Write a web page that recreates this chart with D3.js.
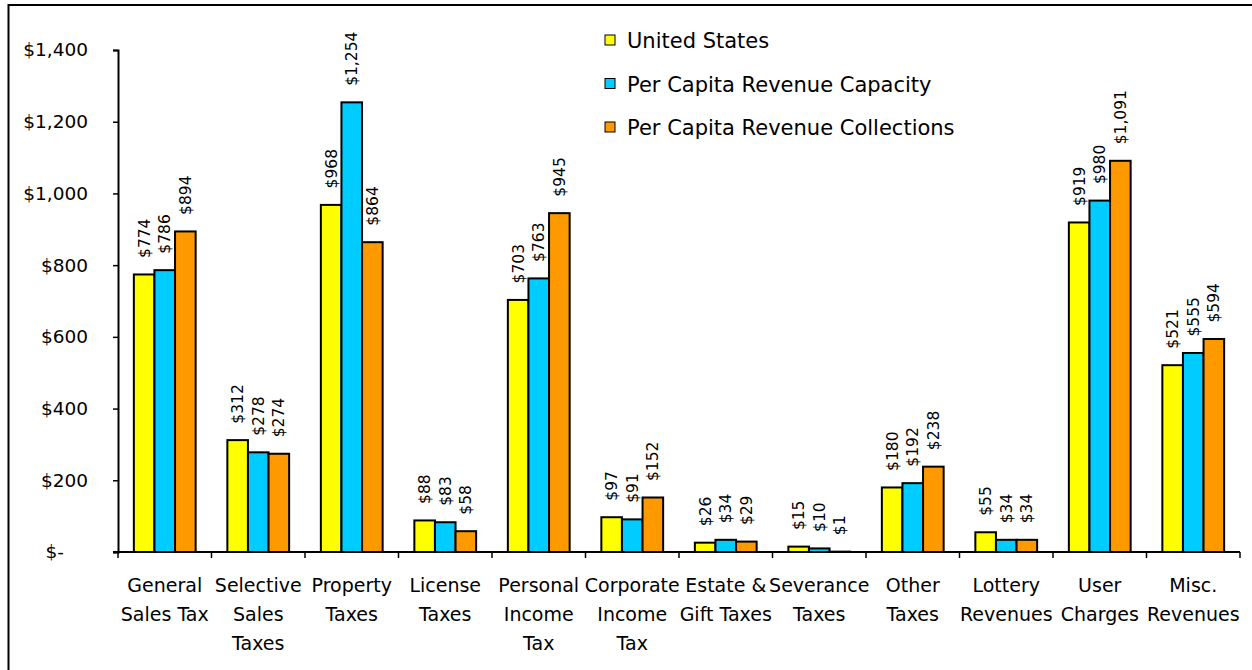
<!DOCTYPE html>
<html lang="en">

<head>
    <meta charset="UTF-8">
    <title>Per Capita Revenue</title>
    <script src="https://cdn.jsdelivr.net/npm/d3@7"></script>
    <style>
        body { margin: 0; background: #fff; }
        text { font-family: "DejaVu Sans", sans-serif; fill: #000; }
    </style>
</head>

<body>
    <svg></svg>
</body>
<script>
    // chart data
    const categories = ['General Sales Tax', 'Selective Sales Taxes', 'Property Taxes', 'License Taxes',
        'Personal Income Tax', 'Corporate Income Tax', 'Estate & Gift Taxes', 'Severance Taxes',
        'Other Taxes', 'Lottery Revenues', 'User Charges', 'Misc. Revenues'];
    // how each category label wraps
    const categoryLines = [['General', 'Sales Tax'], ['Selective', 'Sales', 'Taxes'], ['Property', 'Taxes'],
        ['License', 'Taxes'], ['Personal', 'Income', 'Tax'], ['Corporate', 'Income', 'Tax'],
        ['Estate &', 'Gift Taxes'], ['Severance', 'Taxes'], ['Other', 'Taxes'], ['Lottery', 'Revenues'],
        ['User', 'Charges'], ['Misc.', 'Revenues']];
    const seriesNames = ['United States', 'Per Capita Revenue Capacity', 'Per Capita Revenue Collections'];
    const unitedStates = [774, 312, 968, 88, 703, 97, 26, 15, 180, 55, 919, 521];
    const revenueCapacity = [786, 278, 1254, 83, 763, 91, 34, 10, 192, 34, 980, 555];
    const revenueCollections = [894, 274, 864, 58, 945, 152, 29, 1, 238, 34, 1091, 594];
    const yTicks = [0, 200, 400, 600, 800, 1000, 1200, 1400];

    const seriesValues = [unitedStates, revenueCapacity, revenueCollections];
    const colors = ['#ffff00', '#00ccff', '#ff9900'];

    const width = 1252, height = 670;
    const svg = d3.select('svg').attr('width', width).attr('height', height);

    // outer frame (right/bottom edges fall outside the picture)
    svg.append('rect')
        .attr('x', 8.5).attr('y', 5)
        .attr('width', width + 20).attr('height', height + 20)
        .attr('fill', 'none').attr('stroke', '#000').attr('stroke-width', 2);

    const x0 = d3.scaleBand().domain(categories).range([118, 1240]);
    const x1 = d3.scaleBand().domain(seriesNames).range([0, x0.bandwidth()]).paddingOuter(0.77);
    const y = d3.scaleLinear().domain([0, 1400]).range([552, 50]);

    // y axis
    const yAxis = svg.append('g')
        .attr('transform', 'translate(118,0)')
        .call(d3.axisLeft(y).tickValues(yTicks).tickSize(5).tickPadding(25)
            .tickFormat(d => d === 0 ? '$-' : '$' + d3.format(',')(d)));
    yAxis.select('.domain').attr('stroke', '#000').attr('stroke-width', 2);
    yAxis.selectAll('.tick line').attr('stroke', '#000').attr('stroke-width', 1.5);
    yAxis.selectAll('.tick text')
        .attr('font-size', 18.5)
        .attr('font-family', '"DejaVu Sans", sans-serif')
        .attr('fill', '#000')
        .attr('dx', d => d === 0 ? -24 : 0);

    // x axis: base line plus ticks on band boundaries
    svg.append('line')
        .attr('x1', 113).attr('x2', x0.range()[1])
        .attr('y1', y(0)).attr('y2', y(0))
        .attr('stroke', '#000').attr('stroke-width', 2);
    svg.append('g').selectAll('line')
        .data(categories.concat(['__end']))
        .join('line')
        .attr('x1', (d, i) => x0.range()[0] + i * x0.step())
        .attr('x2', (d, i) => x0.range()[0] + i * x0.step())
        .attr('y1', y(0)).attr('y2', y(0) + 6)
        .attr('stroke', '#000').attr('stroke-width', 1.5);

    // category labels
    svg.append('g').selectAll('text')
        .data(categories)
        .join('text')
        .attr('x', d => x0(d) + x0.bandwidth() / 2)
        .attr('y', 592)
        .attr('text-anchor', 'middle')
        .attr('font-size', 19)
        .selectAll('tspan')
        .data((d, i) => categoryLines[i])
        .join('tspan')
        .attr('x', function () { return this.parentNode.getAttribute('x'); })
        .attr('dy', (d, i) => i === 0 ? 0 : 29)
        .text(d => d);

    // bars
    const groups = svg.append('g').selectAll('g')
        .data(categories)
        .join('g')
        .attr('transform', d => `translate(${x0(d)},0)`);

    const cells = groups.selectAll('g')
        .data((d, i) => seriesNames.map((s, k) => ({ series: s, k: k, value: seriesValues[k][i] })))
        .join('g');

    cells.append('rect')
        .attr('x', d => x1(d.series))
        .attr('width', x1.bandwidth())
        .attr('y', d => y(d.value))
        .attr('height', d => y(0) - y(d.value))
        .attr('fill', d => colors[d.k])
        .attr('stroke', '#000')
        .attr('stroke-width', 2);

    // rotated value labels
    cells.append('text')
        .attr('transform', d => `translate(${x1(d.series) + x1.bandwidth() / 2},${y(d.value) - 16.5}) rotate(-90)`)
        .attr('dy', '0.35em')
        .attr('font-size', 15.5)
        .text(d => '$' + d3.format(',')(d.value));

    // legend
    const legend = svg.append('g').selectAll('g')
        .data(seriesNames)
        .join('g')
        .attr('transform', (d, i) => `translate(605,${48 + i * 43.5})`);
    legend.append('rect')
        .attr('y', -13).attr('width', 10).attr('height', 10)
        .attr('fill', (d, i) => colors[i])
        .attr('stroke', '#000').attr('stroke-width', 1);
    legend.append('text')
        .attr('x', 22)
        .attr('font-size', 21)
        .text(d => d);
</script>

</html>
